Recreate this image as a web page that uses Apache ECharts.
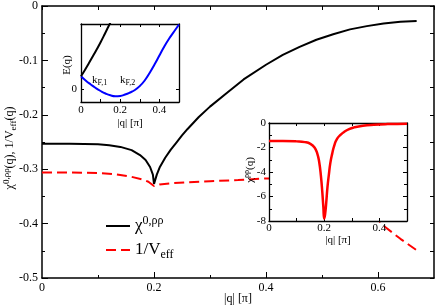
<!DOCTYPE html>
<html><head><meta charset="utf-8">
<script src="https://cdn.jsdelivr.net/npm/echarts@6/dist/echarts.min.js"></script>
<style>html,body{margin:0;padding:0;background:#fff}#c{width:436px;height:306px}</style>
</head><body><div id="c"></div>
<script>
// ---- main panel data ----
const qChi0 = [0,0.05,0.1,0.12,0.14,0.16,0.175,0.185,0.193,0.198,0.2,0.205,0.21,0.22,0.23,0.24,0.25,0.26,0.28,0.3,0.33,0.36,0.4,0.43,0.46,0.49,0.52,0.55,0.58,0.61,0.64,0.669];
const chi0 = [-0.253,-0.253,-0.254,-0.256,-0.259,-0.265,-0.274,-0.283,-0.296,-0.31,-0.327,-0.31,-0.297,-0.279,-0.264,-0.251,-0.238,-0.226,-0.204,-0.185,-0.16,-0.135,-0.108,-0.09,-0.075,-0.062,-0.052,-0.043,-0.037,-0.032,-0.029,-0.0275];
const qVeff = [0,0.05,0.1,0.13,0.16,0.18,0.19,0.2,0.21,0.23,0.26,0.3,0.35,0.4,0.45,0.5,0.55,0.58,0.61,0.64,0.669];
const invVeff = [-0.306,-0.306,-0.307,-0.309,-0.314,-0.319,-0.323,-0.331,-0.328,-0.326,-0.324,-0.322,-0.32,-0.317,-0.318,-0.326,-0.345,-0.37,-0.404,-0.428,-0.449];
const mainXTickVals = [0,0.2,0.4,0.6];
const mainXTickLabels = ['0','0.2','0.4','0.6'];
// ---- inset 1: band structure E(q) ----
const qLower = [0,0.025,0.05,0.075,0.1,0.125,0.15,0.175,0.2,0.225,0.25,0.275,0.3,0.325,0.35,0.375,0.4,0.425,0.45,0.475,0.5];
const eLower = [0.266,0.176,0.1,0.03,-0.03,-0.08,-0.116,-0.134,-0.128,-0.1,-0.06,-0.01,0.07,0.18,0.33,0.5,0.68,0.86,1.02,1.16,1.3];
const qUpper = [0,0.02,0.04,0.06,0.08,0.1,0.12,0.14,0.15];
const eUpper = [0.266,0.392,0.524,0.66,0.8,0.946,1.1,1.26,1.34];
const insetXTickVals = [0,0.2,0.4];
const insetXTickLabels = ['0','0.2','0.4'];
// ---- inset 2: chi^rhorho(q) ----
const qRR = [0,0.05,0.1,0.13,0.15,0.165,0.175,0.182,0.188,0.193,0.197,0.2,0.203,0.207,0.212,0.217,0.222,0.229,0.237,0.247,0.26,0.272,0.29,0.308,0.34,0.38,0.43,0.5];
const chiRR = [-1.47,-1.47,-1.5,-1.56,-1.7,-2.0,-2.5,-3.2,-4.3,-5.6,-6.9,-7.8,-7.5,-6.6,-5.2,-4.2,-3.3,-2.5,-1.8,-1.27,-0.95,-0.73,-0.5,-0.36,-0.22,-0.14,-0.09,-0.06];

const F = '"Liberation Serif","DejaVu Serif",serif';
const zip = (a,b) => a.map((v,i)=>[v,b[i]]);
const blk = '#000';
const line = (w)=>({onZero:false, lineStyle:{color:blk,width:w}});
const noLbl = {show:false};
const noSplit = {show:false};

const chart = echarts.init(document.getElementById('c'), null, {renderer:'canvas'});
chart.setOption({
  animation:false,
  backgroundColor:'#fff',
  grid:[
    {left:42, top:5, width:392, height:273},
    {left:81, top:24, width:98, height:78, show:true, backgroundColor:'#fff', borderWidth:0, z:10},
    {left:269, top:123, width:138, height:98, show:true, backgroundColor:'#fff', borderWidth:0, z:10}
  ],
  xAxis:[
    {gridIndex:0, type:'value', position:'bottom', min:0, max:0.7, interval:0.1, axisLine:line(1.5),
     axisTick:{inside:true, length:6, customValues:[0.2,0.4,0.6], lineStyle:{color:blk}},
     axisLabel:{customValues:mainXTickVals, formatter:v=>mainXTickLabels[mainXTickVals.indexOf(v)] ?? '', color:blk, fontFamily:F, fontSize:12, margin:4},
     splitLine:noSplit},
    {gridIndex:0, type:'value', position:'bottom', min:0, max:0.7, interval:0.1, axisLine:{show:false,onZero:false},
     axisTick:{inside:true, length:3, customValues:[0.1,0.3,0.5], lineStyle:{color:blk}}, axisLabel:noLbl, splitLine:noSplit},
    {gridIndex:0, type:'value', position:'top', min:0, max:0.7, interval:0.1, axisLine:line(1.5),
     axisTick:{inside:true, length:4, lineStyle:{color:blk}}, axisLabel:noLbl, splitLine:noSplit},
    // inset 1
    {gridIndex:1, type:'value', position:'bottom', min:0, max:0.5, interval:0.1, axisLine:line(1.3), z:12,
     axisTick:{inside:true, length:3, lineStyle:{color:blk}},
     axisLabel:{customValues:insetXTickVals, formatter:v=>insetXTickLabels[insetXTickVals.indexOf(v)] ?? '', color:blk, fontFamily:F, fontSize:11, margin:3},
     splitLine:noSplit},
    {gridIndex:1, type:'value', position:'top', min:0, max:0.5, interval:0.1, axisLine:line(1.3), z:12,
     axisTick:{inside:true, length:3, lineStyle:{color:blk}}, axisLabel:noLbl, splitLine:noSplit},
    // inset 2
    {gridIndex:2, type:'value', position:'bottom', min:0, max:0.5, interval:0.1, axisLine:line(1.3), z:12,
     axisTick:{inside:true, length:3, lineStyle:{color:blk}},
     axisLabel:{customValues:insetXTickVals, formatter:v=>insetXTickLabels[insetXTickVals.indexOf(v)] ?? '', color:blk, fontFamily:F, fontSize:11, margin:2},
     splitLine:noSplit},
    {gridIndex:2, type:'value', position:'top', min:0, max:0.5, interval:0.1, axisLine:line(1.3), z:12,
     axisTick:{inside:true, length:3, lineStyle:{color:blk}}, axisLabel:noLbl, splitLine:noSplit}
  ],
  yAxis:[
    {gridIndex:0, type:'value', position:'left', min:-0.5, max:0, interval:0.1, axisLine:line(1.5),
     axisTick:{inside:true, length:6, lineStyle:{color:blk}},
     minorTick:{show:true, splitNumber:2, length:3, lineStyle:{color:blk}},
     axisLabel:{formatter:v=>Math.abs(v)<1e-9?'0':v.toFixed(1), color:blk, fontFamily:F, fontSize:12, margin:4},
     splitLine:noSplit, minorSplitLine:{show:false}},
    {gridIndex:0, type:'value', position:'right', min:-0.5, max:0, interval:0.1, axisLine:line(1.5),
     axisTick:{inside:true, length:4, lineStyle:{color:blk}},
     minorTick:{show:true, splitNumber:2, length:4, lineStyle:{color:blk}},
     axisLabel:noLbl, splitLine:noSplit},
    // inset 1
    {gridIndex:1, type:'value', position:'left', min:-0.25, max:1.31, axisLine:line(1.3), z:12,
     axisTick:{inside:true, length:3, customValues:[0], lineStyle:{color:blk}},
     axisLabel:{customValues:[0], formatter:()=> '0', color:blk, fontFamily:F, fontSize:11, margin:4},
     splitLine:noSplit},
    {gridIndex:1, type:'value', position:'right', min:-0.25, max:1.31, axisLine:line(1.3), z:12,
     axisTick:{inside:true, length:3, customValues:[0], lineStyle:{color:blk}}, axisLabel:noLbl, splitLine:noSplit},
    // inset 2
    {gridIndex:2, type:'value', position:'left', min:-8, max:0, interval:2, axisLine:line(1.3), z:12,
     axisTick:{inside:true, length:4, lineStyle:{color:blk}},
     minorTick:{show:true, splitNumber:2, length:3, lineStyle:{color:blk}},
     axisLabel:{formatter:v=>String(v), color:blk, fontFamily:F, fontSize:11, margin:3},
     splitLine:noSplit, minorSplitLine:{show:false}},
    {gridIndex:2, type:'value', position:'right', min:-8, max:0, interval:2, axisLine:line(1.3), z:12,
     axisTick:{inside:true, length:4, lineStyle:{color:blk}},
     minorTick:{show:true, splitNumber:2, length:3, lineStyle:{color:blk}},
     axisLabel:noLbl, splitLine:noSplit}
  ],
  legend:{
    orient:'vertical', left:105, top:215, padding:0, itemWidth:24, itemHeight:12, itemGap:7,
    data:['chi0','veff'],
    itemStyle:{opacity:0},
    formatter:n=> n==='chi0' ? '{m|χ}{sup|0,ρρ}' : '{m|1/V}{sub|eff}',
    textStyle:{fontFamily:F, color:blk, rich:{
      m:{fontFamily:F, fontSize:17, lineHeight:22, color:blk},
      sup:{fontFamily:F, fontSize:12, lineHeight:10, verticalAlign:'top', color:blk},
      sub:{fontFamily:F, fontSize:12, lineHeight:10, verticalAlign:'bottom', color:blk}
    }}
  },
  series:[
    {name:'chi0', type:'line', xAxisIndex:0, yAxisIndex:0, data:zip(qChi0,chi0), symbol:'none', smooth:false,
     lineStyle:{color:'#000', width:2}, itemStyle:{color:'#000'}, z:2},
    {name:'veff', type:'line', xAxisIndex:0, yAxisIndex:0, data:zip(qVeff,invVeff), symbol:'none', smooth:false,
     lineStyle:{color:'#ff0000', width:2, type:[10,5]}, itemStyle:{color:'#ff0000'}, z:2},
    {name:'lowerBand', type:'line', xAxisIndex:3, yAxisIndex:2, data:zip(qLower,eLower), symbol:'none', smooth:true,
     lineStyle:{color:'#0000ff', width:2}, z:12,
     markLine:{silent:true, symbol:['none','none'], label:{show:false}, lineStyle:{color:'#777', type:'dotted', width:1}, data:[{yAxis:0}]}},
    {name:'upperBand', type:'line', xAxisIndex:3, yAxisIndex:2, data:zip(qUpper,eUpper), symbol:'none', smooth:true,
     lineStyle:{color:'#000', width:2}, z:12},
    {name:'chiRR', type:'line', xAxisIndex:5, yAxisIndex:4, data:zip(qRR,chiRR), symbol:'none', smooth:true,
     lineStyle:{color:'#ff0000', width:2.5}, z:12}
  ],
  graphic:[
    {type:'text', x:10, y:148, rotation:Math.PI/2, z:20, style:{
      text:'{m|χ}{sup|0,ρρ}{m|(q), 1/V}{sub|eff}{m|(q)}', align:'center', verticalAlign:'middle',
      rich:{m:{fontFamily:F, fontSize:12, lineHeight:16, fill:blk},
            sup:{fontFamily:F, fontSize:9, lineHeight:9, verticalAlign:'top', fill:blk},
            sub:{fontFamily:F, fontSize:9, lineHeight:9, verticalAlign:'bottom', fill:blk}}}},
    {type:'text', x:238, y:299, z:20, style:{text:'|q| [π]', fontFamily:F, fontSize:12, fill:blk, align:'center', verticalAlign:'middle'}},
    {type:'text', x:67, y:65, rotation:Math.PI/2, z:20, style:{text:'E(q)', fontFamily:F, fontSize:11, fill:blk, align:'center', verticalAlign:'middle'}},
    {type:'text', x:130, y:123, z:20, style:{text:'|q| [π]', fontFamily:F, fontSize:11, fill:blk, align:'center', verticalAlign:'middle'}},
    {type:'text', x:92, y:80, z:20, style:{text:'{m|k}{sub|F,1}', align:'left', verticalAlign:'middle',
      rich:{m:{fontFamily:F, fontSize:11, lineHeight:14, fill:blk}, sub:{fontFamily:F, fontSize:8, lineHeight:8, verticalAlign:'bottom', fill:blk}}}},
    {type:'text', x:120, y:80, z:20, style:{text:'{m|k}{sub|F,2}', align:'left', verticalAlign:'middle',
      rich:{m:{fontFamily:F, fontSize:11, lineHeight:14, fill:blk}, sub:{fontFamily:F, fontSize:8, lineHeight:8, verticalAlign:'bottom', fill:blk}}}},
    {type:'text', x:250, y:170, rotation:Math.PI/2, z:20, style:{
      text:'{m|χ}{sup|ρρ}{m|(q)}', align:'center', verticalAlign:'middle',
      rich:{m:{fontFamily:F, fontSize:11, lineHeight:14, fill:blk}, sup:{fontFamily:F, fontSize:8, lineHeight:8, verticalAlign:'top', fill:blk}}}},
    {type:'text', x:338, y:240, z:20, style:{text:'|q| [π]', fontFamily:F, fontSize:11, fill:blk, align:'center', verticalAlign:'middle'}}
  ]
});
</script></body></html>
